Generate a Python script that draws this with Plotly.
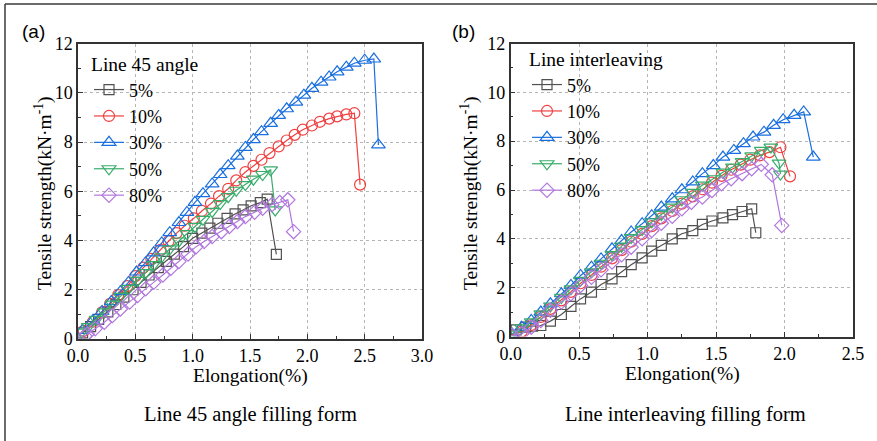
import plotly.graph_objects as go

W, H = 877, 441

# ---------------- data: panel (a) Line 45 angle ----------------
series_names = ["5%", "10%", "30%", "50%", "80%"]

a_x_5 = [0.04, 0.11, 0.18, 0.26, 0.33, 0.40, 0.48, 0.55, 0.62, 0.70, 0.77, 0.84, 0.92, 1.00,
         1.08, 1.15, 1.22, 1.30, 1.37, 1.44, 1.51, 1.59, 1.65, 1.73]
a_y_5 = [0.25, 0.5, 0.8, 1.1, 1.4, 1.7, 2.0, 2.3, 2.6, 2.9, 3.15, 3.45, 3.75, 4.09,
         4.3, 4.5, 4.7, 4.9, 5.08, 5.24, 5.41, 5.54, 5.68, 3.44]

a_x_10 = [0.05, 0.13, 0.21, 0.28, 0.35, 0.43, 0.50, 0.57, 0.64, 0.72, 0.79, 0.86, 0.93, 1.01,
          1.08, 1.16, 1.23, 1.31, 1.38, 1.46, 1.53, 1.60, 1.67, 1.75, 1.82, 1.89, 1.96, 2.04,
          2.11, 2.19, 2.26, 2.34, 2.41, 2.46]
a_y_10 = [0.33, 0.7, 1.08, 1.43, 1.78, 2.15, 2.55, 2.9, 3.25, 3.62, 3.97, 4.3, 4.6, 4.9,
          5.2, 5.5, 5.8, 6.1, 6.44, 6.78, 7.03, 7.28, 7.55, 7.82, 8.06, 8.29, 8.5, 8.67,
          8.82, 8.95, 9.04, 9.12, 9.17, 6.27]

a_x_30 = [0.04, 0.13, 0.21, 0.29, 0.37, 0.44, 0.51, 0.59, 0.66, 0.73, 0.80, 0.88, 0.95, 1.02,
          1.09, 1.17, 1.24, 1.31, 1.39, 1.46, 1.53, 1.60, 1.68, 1.75, 1.82, 1.90, 1.97, 2.04,
          2.12, 2.19, 2.26, 2.34, 2.41, 2.50, 2.58, 2.62]
a_y_30 = [0.35, 0.75, 1.12, 1.52, 1.92, 2.3, 2.72, 3.1, 3.5, 3.9, 4.32, 4.73, 5.14, 5.55,
          5.9, 6.3, 6.68, 7.04, 7.43, 7.78, 8.1, 8.42, 8.76, 9.08, 9.35, 9.62, 9.9, 10.18,
          10.43, 10.64, 10.85, 11.04, 11.2, 11.32, 11.37, 7.88]

a_x_50 = [0.03, 0.09, 0.16, 0.23, 0.30, 0.37, 0.44, 0.52, 0.59, 0.66, 0.73, 0.80, 0.88, 0.95,
          1.02, 1.09, 1.17, 1.24, 1.31, 1.38, 1.46, 1.53, 1.61, 1.68, 1.72]
a_y_50 = [0.28, 0.5, 0.8, 1.1, 1.42, 1.73, 2.05, 2.38, 2.7, 3.02, 3.34, 3.66, 3.98, 4.28,
          4.57, 4.86, 5.18, 5.5, 5.78, 6.04, 6.27, 6.49, 6.68, 6.87, 5.24]

a_x_80 = [0.06, 0.08, 0.15, 0.23, 0.30, 0.37, 0.45, 0.52, 0.59, 0.66, 0.74, 0.81, 0.88, 0.96,
          1.03, 1.10, 1.17, 1.25, 1.32, 1.39, 1.46, 1.54, 1.61, 1.69, 1.76, 1.83, 1.88]
a_y_80 = [0.12, 0.2, 0.42, 0.68, 0.95, 1.22, 1.5, 1.77, 2.04, 2.3, 2.6, 2.87, 3.15, 3.45,
          3.75, 3.96, 4.16, 4.36, 4.57, 4.77, 4.97, 5.15, 5.31, 5.45, 5.54, 5.65, 4.36]

# ---------------- data: panel (b) Line interleaving ----------------
b_x_5 = [0.04, 0.11, 0.16, 0.22, 0.29, 0.37, 0.44, 0.51, 0.59, 0.66, 0.74, 0.81, 0.88, 0.96,
         1.03, 1.10, 1.18, 1.25, 1.33, 1.40, 1.47, 1.55, 1.62, 1.69, 1.76, 1.79]
b_y_5 = [0.27, 0.38, 0.42, 0.45, 0.63, 0.9, 1.23, 1.54, 1.82, 2.13, 2.36, 2.66, 2.94, 3.22,
         3.5, 3.73, 4.0, 4.21, 4.34, 4.59, 4.73, 4.86, 4.99, 5.12, 5.23, 4.25]

b_x_10 = [0.01, 0.08, 0.15, 0.22, 0.29, 0.37, 0.44, 0.51, 0.59, 0.66, 0.74, 0.81, 0.88, 0.96,
          1.03, 1.10, 1.18, 1.25, 1.33, 1.40, 1.47, 1.54, 1.61, 1.68, 1.75, 1.82, 1.89, 1.97, 2.04]
b_y_10 = [0.05, 0.2, 0.47, 0.8, 1.13, 1.48, 1.83, 2.18, 2.52, 2.86, 3.2, 3.54, 3.88, 4.2,
          4.52, 4.84, 5.14, 5.44, 5.74, 6.03, 6.3, 6.58, 6.83, 7.04, 7.24, 7.42, 7.55, 7.75, 6.56]

b_x_30 = [0.01, 0.08, 0.15, 0.22, 0.29, 0.37, 0.44, 0.51, 0.59, 0.66, 0.74, 0.81, 0.88, 0.96,
          1.03, 1.10, 1.18, 1.25, 1.33, 1.40, 1.48, 1.55, 1.63, 1.70, 1.77, 1.85, 1.92, 1.99,
          2.07, 2.14, 2.21]
b_y_30 = [0.1, 0.38, 0.66, 1.0, 1.34, 1.75, 2.09, 2.5, 2.84, 3.18, 3.59, 3.93, 4.28, 4.62,
          4.95, 5.3, 5.64, 6.01, 6.33, 6.67, 7.0, 7.35, 7.62, 7.9, 8.17, 8.37, 8.65, 8.88,
          9.06, 9.2, 7.35]

b_x_50 = [0.01, 0.08, 0.15, 0.22, 0.29, 0.37, 0.44, 0.51, 0.59, 0.66, 0.74, 0.81, 0.88, 0.96,
          1.03, 1.10, 1.18, 1.25, 1.33, 1.40, 1.48, 1.55, 1.62, 1.69, 1.76, 1.83, 1.90, 1.96, 1.97]
b_y_50 = [0.1, 0.35, 0.6, 0.93, 1.25, 1.6, 1.95, 2.3, 2.65, 3.0, 3.35, 3.7, 4.05, 4.38,
          4.7, 5.0, 5.3, 5.6, 5.9, 6.2, 6.46, 6.73, 6.94, 7.16, 7.4, 7.62, 7.76, 7.1, 6.65]

b_x_80 = [0.01, 0.08, 0.15, 0.22, 0.29, 0.37, 0.44, 0.51, 0.59, 0.66, 0.74, 0.81, 0.88, 0.96,
          1.03, 1.10, 1.18, 1.25, 1.32, 1.40, 1.47, 1.54, 1.61, 1.69, 1.76, 1.83, 1.91, 1.98]
b_y_80 = [0.05, 0.11, 0.38, 0.66, 1.07, 1.41, 1.75, 2.09, 2.43, 2.73, 3.05, 3.35, 3.66, 4.0,
          4.34, 4.64, 4.92, 5.23, 5.5, 5.71, 5.98, 6.26, 6.46, 6.67, 6.87, 7.05, 6.62, 4.55]

x_ticks_a = [0.0, 0.5, 1.0, 1.5, 2.0, 2.5, 3.0]
x_ticks_b = [0.0, 0.5, 1.0, 1.5, 2.0, 2.5]
y_ticks = [0, 2, 4, 6, 8, 10, 12]

# ---------------- styles ----------------
colors = ["#515151", "#F14040", "#1A6FDF", "#37AD6B", "#B177DE"]
symbols = ["square-open", "circle-open", "triangle-up-open", "triangle-down-open", "diamond-open"]
sizes = [10, 11, 12, 12, 11]
SERIF = "Liberation Serif, Times New Roman, serif"
SANS = "Liberation Sans, Arial, sans-serif"

panel_a = [(a_x_5, a_y_5), (a_x_10, a_y_10), (a_x_30, a_y_30), (a_x_50, a_y_50), (a_x_80, a_y_80)]
panel_b = [(b_x_5, b_y_5), (b_x_10, b_y_10), (b_x_30, b_y_30), (b_x_50, b_y_50), (b_x_80, b_y_80)]

fig = go.Figure()

for panel, (xa, ya, leg) in zip([panel_a, panel_b], [("x", "y", "legend"), ("x2", "y2", "legend2")]):
    for i, (xs, ys) in enumerate(panel):
        fig.add_trace(go.Scatter(
            x=xs, y=ys, mode="lines+markers", name=series_names[i],
            xaxis=xa, yaxis=ya, legend=leg,
            line=dict(color=colors[i], width=1.2),
            marker=dict(symbol=symbols[i], size=sizes[i], color=colors[i],
                        line=dict(color=colors[i], width=1.2)),
        ))

def px_x(p):
    return p / W

def px_y(p):
    return 1 - p / H

def axis_common():
    return dict(
        automargin=False,
        showline=True, linecolor="#333333", linewidth=1.5, mirror=True,
        ticks="inside", ticklen=5, tickwidth=1.2, tickcolor="#333333",
        showgrid=True, gridcolor="#b5b5b5", gridwidth=1, griddash="dot",
        zeroline=False,
        tickfont=dict(family=SERIF, size=18, color="black"),
        minor=dict(ticks="inside", ticklen=3, tickwidth=1, tickcolor="#333333", showgrid=False),
    )

LEG_FONT = 18

fig.update_layout(
    template="none",
    width=W, height=H,
    margin=dict(l=0, r=0, t=0, b=0, pad=0),
    paper_bgcolor="white", plot_bgcolor="white",
    showlegend=True,
    xaxis=dict(domain=[px_x(78), px_x(422)], range=[0, 3], tickvals=x_ticks_a,
               ticktext=[f"{v:.1f}" for v in x_ticks_a], minor_dtick=0.25, anchor="y",
               **axis_common()),
    yaxis=dict(domain=[px_y(339), px_y(43.5)], range=[0, 12], tickvals=y_ticks,
               ticktext=[str(v) for v in y_ticks], minor_dtick=1, anchor="x", **axis_common()),
    xaxis2=dict(domain=[px_x(510.7), px_x(853)], range=[0, 2.5], tickvals=x_ticks_b,
                ticktext=[f"{v:.1f}" for v in x_ticks_b], minor_dtick=0.25, anchor="y2",
                **axis_common()),
    yaxis2=dict(domain=[px_y(336.5), px_y(43.5)], range=[0, 12], tickvals=y_ticks,
                ticktext=[str(v) for v in y_ticks], minor_dtick=1, anchor="x2", **axis_common()),
    legend=dict(x=px_x(89), y=px_y(46), xanchor="left", yanchor="top",
                bgcolor="rgba(0,0,0,0)", borderwidth=0,
                font=dict(family=SERIF, size=LEG_FONT, color="black"),
                title=dict(text="Line 45 angle", font=dict(family=SERIF, size=19.5, color="black"))),
    legend2=dict(x=px_x(527), y=px_y(41), xanchor="left", yanchor="top",
                 bgcolor="rgba(0,0,0,0)", borderwidth=0,
                 font=dict(family=SERIF, size=LEG_FONT, color="black"),
                 title=dict(text="Line interleaving", font=dict(family=SERIF, size=19.5, color="black"))),
)

annotations = [
    dict(text="(a)", x=px_x(33), y=px_y(31), font=dict(family=SANS, size=19)),
    dict(text="(b)", x=px_x(463), y=px_y(31), font=dict(family=SANS, size=19)),
    dict(text="Elongation(%)", x=px_x(250), y=px_y(376), font=dict(family=SERIF, size=19.5)),
    dict(text="Elongation(%)", x=px_x(682), y=px_y(374), font=dict(family=SERIF, size=19.5)),
    dict(text="Tensile strength(kN·m<sup>-1</sup>)", x=px_x(43), y=px_y(193), textangle=-90,
         font=dict(family=SERIF, size=19.5)),
    dict(text="Tensile strength(kN·m<sup>-1</sup>)", x=px_x(469), y=px_y(193), textangle=-90,
         font=dict(family=SERIF, size=19.5)),
    dict(text="Line 45 angle filling form", x=px_x(250), y=px_y(414), font=dict(family=SERIF, size=20.5)),
    dict(text="Line interleaving filling form", x=px_x(685), y=px_y(414), font=dict(family=SERIF, size=20.5)),
]
for a in annotations:
    a.update(xref="paper", yref="paper", showarrow=False, xanchor="center", yanchor="middle")
    a["font"]["color"] = "black"
fig.update_layout(annotations=annotations)

fig.update_layout(shapes=[
    dict(type="line", xref="paper", yref="paper", x0=px_x(5), x1=1.01, y0=px_y(4), y1=px_y(4),
         line=dict(color="#3a3a3a", width=1.5)),
    dict(type="line", xref="paper", yref="paper", x0=px_x(5), x1=px_x(5), y0=px_y(4), y1=-0.01,
         line=dict(color="#3a3a3a", width=1.5)),
])

fig.write_html("out.html", config={"displayModeBar": False},
               post_script="document.body.style.margin='0';document.body.style.padding='0';")
